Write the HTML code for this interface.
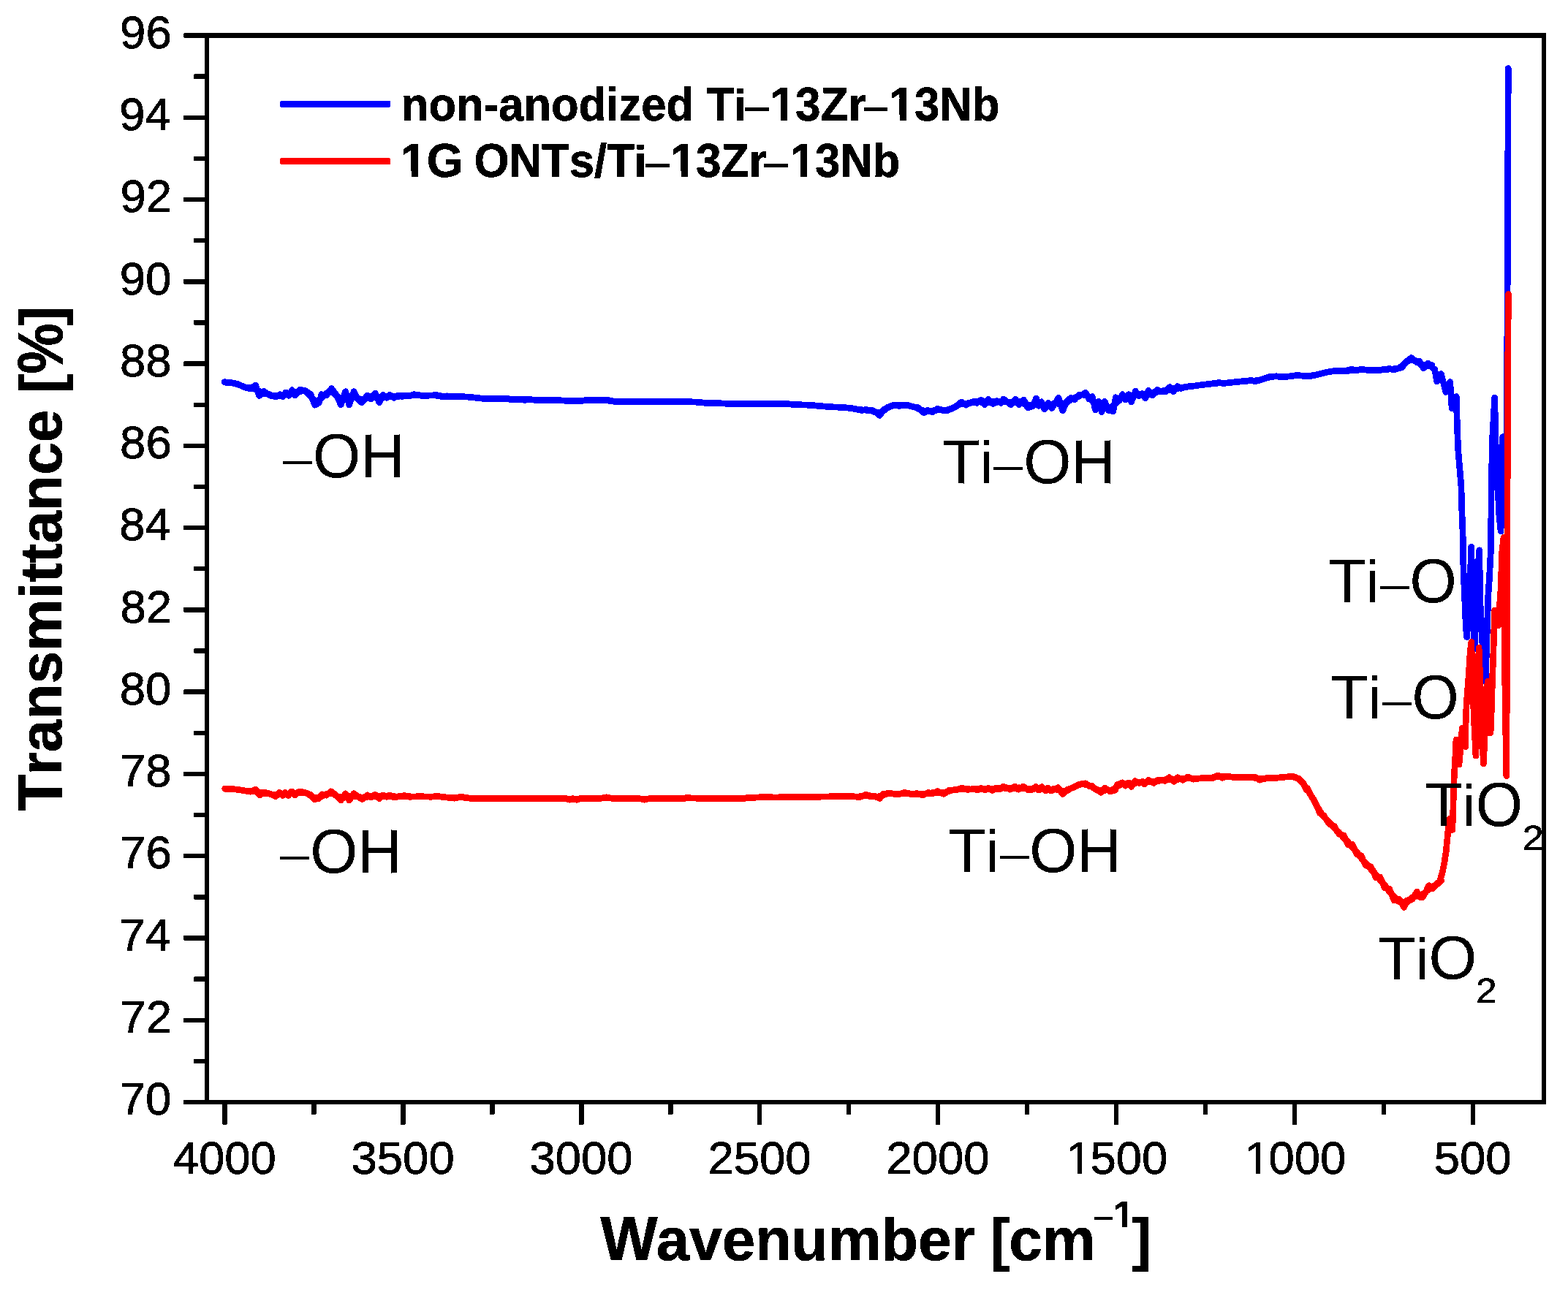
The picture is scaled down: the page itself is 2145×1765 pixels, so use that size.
<!DOCTYPE html>
<html lang="en"><head><meta charset="utf-8"><title>FTIR transmittance spectra</title>
<style>html,body{margin:0;padding:0;background:#fff}body{width:2145px;height:1765px;overflow:hidden}svg{display:block}text{font-family:'Liberation Sans', Arial, Helvetica, sans-serif;fill:#000;stroke:#000;stroke-linejoin:round;font-kerning:none;white-space:pre}.b{font-weight:700}</style>
</head><body>
<svg width="2145" height="1765" viewBox="0 0 2145 1765">
<rect x="0" y="0" width="2145" height="1765" fill="#fff"/>
<g id="curves" shape-rendering="crispEdges">
<polyline points="307.1,523.1 309.1,523.2 311.1,523.3 313.1,523.4 315.1,523.7 317.1,524.0 319.1,524.3 321.1,524.7 323.1,525.3 325.1,525.9 327.1,526.6 329.1,527.4 331.1,528.1 333.1,528.9 335.1,529.7 337.1,530.2 339.1,530.5 341.1,530.4 343.1,530.2 345.1,530.5 347.1,531.4 349.1,532.7 351.1,533.6 353.1,534.4 355.1,535.3 357.1,536.5 359.1,537.7 361.1,538.3 363.1,538.4 365.1,538.6 367.1,539.2 369.1,540.0 371.1,540.9 373.1,541.4 375.1,541.6 377.1,541.5 379.1,541.6 381.1,541.5 383.1,541.1 385.1,540.4 387.1,540.0 389.1,540.0 391.1,539.6 393.1,538.8 395.1,538.1 397.1,538.2 399.1,538.4 401.1,538.1 403.1,537.2 405.1,536.5 407.1,536.3 409.1,536.1 411.1,535.5 413.1,534.9 415.1,534.9 417.1,535.3 419.1,536.3 421.1,538.0 423.1,540.2 425.1,542.8 427.1,545.2 429.1,547.2 431.1,548.4 433.1,548.7 435.1,548.2 437.1,547.1 439.1,545.4 441.1,543.6 443.1,541.5 445.1,539.4 447.1,537.7 449.1,537.0 451.1,536.6 453.1,536.5 455.1,536.8 457.1,538.1 459.1,540.4 461.1,542.7 463.1,544.2 465.1,544.7 467.1,544.7 469.1,545.4 471.1,546.3 473.1,546.1 475.1,544.9 477.1,543.5 479.1,543.1 481.1,543.8 483.1,544.3 485.1,544.0 487.1,543.8 489.1,544.3 491.1,545.3 493.1,546.3 495.1,546.6 497.1,546.3 499.1,545.9 501.1,545.4 503.1,544.4 505.1,543.3 507.1,542.4 509.1,542.3 511.1,543.1 513.1,544.0 515.1,544.1 517.1,543.7 519.1,543.7 521.1,544.3 523.1,544.6 525.1,544.1 527.1,542.9 529.1,542.2 531.1,542.3 533.1,542.7 535.1,542.7 537.1,542.4 539.1,542.2 541.1,542.3 543.1,542.5 545.1,542.4 547.1,542.1 549.1,541.8 551.1,541.7 553.1,541.8 555.1,541.7 557.1,541.5 559.1,541.2 561.1,541.0 563.1,540.8 565.1,540.7 567.1,540.6 569.1,540.5 571.1,540.6 573.1,540.7 575.1,540.9 577.1,541.1 579.1,541.2 581.1,541.3 583.1,541.3 585.1,541.2 587.1,541.1 589.1,541.0 591.1,541.0 593.1,541.0 595.1,541.0 597.1,541.2 599.1,541.4 601.1,541.6 603.1,541.8 605.1,541.9 607.1,542.1 609.1,542.2 611.1,542.2 613.1,542.2 615.1,542.3 617.1,542.4 619.1,542.5 621.1,542.6 623.1,542.7 625.1,542.7 627.1,542.7 629.1,542.7 631.1,542.7 633.1,542.8 635.1,542.8 637.1,542.9 639.1,543.1 641.1,543.2 643.1,543.4 645.1,543.6 647.1,543.8 649.1,544.0 651.1,544.2 653.1,544.4 655.1,544.7 657.1,544.9 659.1,545.1 661.1,545.3 663.1,545.4 665.1,545.5 667.1,545.6 669.1,545.7 671.1,545.7 673.1,545.7 675.1,545.7 677.1,545.7 679.1,545.7 681.1,545.7 683.1,545.7 685.1,545.6 687.1,545.6 689.1,545.6 691.1,545.7 693.1,545.8 695.1,545.9 697.1,546.0 699.1,546.2 701.1,546.3 703.1,546.5 705.1,546.5 707.1,546.6 709.1,546.6 711.1,546.7 713.1,546.8 715.1,546.8 717.1,546.8 719.1,546.8 721.1,546.9 723.1,546.9 725.1,546.9 727.1,546.9 729.1,547.0 731.1,547.1 733.1,547.2 735.1,547.3 737.1,547.4 739.1,547.4 741.1,547.4 743.1,547.4 745.1,547.4 747.1,547.4 749.1,547.4 751.1,547.4 753.1,547.4 755.1,547.4 757.1,547.4 759.1,547.5 761.1,547.5 763.1,547.6 765.1,547.7 767.1,547.8 769.1,547.9 771.1,548.0 773.1,548.2 775.1,548.3 777.1,548.3 779.1,548.4 781.1,548.4 783.1,548.4 785.1,548.4 787.1,548.4 789.1,548.4 791.1,548.3 793.1,548.3 795.1,548.2 797.1,548.0 799.1,547.9 801.1,547.7 803.1,547.6 805.1,547.5 807.1,547.4 809.1,547.3 811.1,547.3 813.1,547.3 815.1,547.4 817.1,547.4 819.1,547.4 821.1,547.4 823.1,547.4 825.1,547.5 827.1,547.6 829.1,547.7 831.1,547.9 833.1,548.2 835.1,548.4 837.1,548.7 839.1,548.9 841.1,549.1 843.1,549.3 845.1,549.4 847.1,549.5 849.1,549.5 851.1,549.6 853.1,549.6 855.1,549.6 857.1,549.6 859.1,549.6 861.1,549.6 863.1,549.6 865.1,549.6 867.1,549.5 869.1,549.5 871.1,549.5 873.1,549.5 875.1,549.5 877.1,549.5 879.1,549.5 881.1,549.4 883.1,549.4 885.1,549.4 887.1,549.4 889.1,549.4 891.1,549.4 893.1,549.4 895.1,549.4 897.1,549.4 899.1,549.4 901.1,549.4 903.1,549.4 905.1,549.4 907.1,549.4 909.1,549.4 911.1,549.3 913.1,549.3 915.1,549.3 917.1,549.3 919.1,549.2 921.1,549.2 923.1,549.2 925.1,549.2 927.1,549.2 929.1,549.3 931.1,549.3 933.1,549.4 935.1,549.4 937.1,549.5 939.1,549.6 941.1,549.7 943.1,549.7 945.1,549.8 947.1,549.9 949.1,550.0 951.1,550.0 953.1,550.2 955.1,550.3 957.1,550.5 959.1,550.7 961.1,550.9 963.1,551.1 965.1,551.2 967.1,551.4 969.1,551.5 971.1,551.6 973.1,551.7 975.1,551.7 977.1,551.7 979.1,551.8 981.1,551.8 983.1,551.8 985.1,551.9 987.1,551.9 989.1,552.0 991.1,552.1 993.1,552.2 995.1,552.3 997.1,552.3 999.1,552.4 1001.1,552.4 1003.1,552.4 1005.1,552.4 1007.1,552.4 1009.1,552.4 1011.1,552.3 1013.1,552.3 1015.1,552.3 1017.1,552.3 1019.1,552.3 1021.1,552.4 1023.1,552.4 1025.1,552.5 1027.1,552.6 1029.1,552.6 1031.1,552.7 1033.1,552.7 1035.1,552.7 1037.1,552.8 1039.1,552.7 1041.1,552.7 1043.1,552.7 1045.1,552.7 1047.1,552.7 1049.1,552.7 1051.1,552.7 1053.1,552.7 1055.1,552.6 1057.1,552.6 1059.1,552.6 1061.1,552.6 1063.1,552.6 1065.1,552.6 1067.1,552.6 1069.1,552.6 1071.1,552.6 1073.1,552.6 1075.1,552.7 1077.1,552.8 1079.1,552.9 1081.1,553.0 1083.1,553.2 1085.1,553.3 1087.1,553.4 1089.1,553.6 1091.1,553.7 1093.1,553.8 1095.1,553.8 1097.1,553.9 1099.1,554.0 1101.1,554.0 1103.1,554.1 1105.1,554.2 1107.1,554.3 1109.1,554.4 1111.1,554.6 1113.1,554.7 1115.1,554.9 1117.1,555.1 1119.1,555.3 1121.1,555.4 1123.1,555.6 1125.1,555.8 1127.1,555.9 1129.1,556.1 1131.1,556.3 1133.1,556.4 1135.1,556.6 1137.1,556.7 1139.1,556.8 1141.1,556.9 1143.1,557.0 1145.1,557.1 1147.1,557.2 1149.1,557.3 1151.1,557.4 1153.1,557.5 1155.1,557.7 1157.1,557.9 1159.1,558.0 1161.1,558.2 1163.1,558.5 1165.1,558.8 1167.1,559.1 1169.1,559.4 1171.1,559.8 1173.1,560.2 1175.1,560.5 1177.1,560.6 1179.1,560.8 1181.1,560.9 1183.1,561.1 1185.1,561.2 1187.1,561.2 1189.1,561.4 1191.1,561.8 1193.1,562.4 1195.1,563.2 1197.1,564.0 1199.1,564.5 1201.1,564.6 1203.1,564.4 1205.1,563.9 1207.1,563.0 1209.1,561.8 1211.1,560.3 1213.1,558.7 1215.1,557.4 1217.1,556.5 1219.1,555.8 1221.1,555.3 1223.1,555.0 1225.1,554.9 1227.1,554.8 1229.1,554.7 1231.1,554.7 1233.1,554.7 1235.1,554.7 1237.1,554.6 1239.1,554.7 1241.1,554.9 1243.1,555.1 1245.1,555.5 1247.1,555.9 1249.1,556.4 1251.1,557.0 1253.1,557.7 1255.1,558.7 1257.1,559.7 1259.1,560.6 1261.1,561.3 1263.1,561.9 1265.1,562.4 1267.1,562.8 1269.1,563.0 1271.1,562.9 1273.1,562.4 1275.1,562.0 1277.1,561.8 1279.1,561.5 1281.1,561.3 1283.1,561.0 1285.1,560.7 1287.1,560.7 1289.1,560.9 1291.1,561.0 1293.1,561.0 1295.1,560.9 1297.1,560.5 1299.1,559.9 1301.1,559.2 1303.1,558.4 1305.1,557.3 1307.1,556.1 1309.1,554.9 1311.1,553.9 1313.1,553.3 1315.1,552.9 1317.1,552.5 1319.1,552.2 1321.1,551.9 1323.1,551.9 1325.1,551.7 1327.1,551.4 1329.1,551.1 1331.1,550.7 1333.1,550.2 1335.1,549.8 1337.1,549.6 1339.1,549.8 1341.1,550.2 1343.1,550.2 1345.1,549.6 1347.1,549.3 1349.1,549.5 1351.1,550.0 1353.1,550.2 1355.1,549.8 1357.1,549.5 1359.1,549.6 1361.1,550.1 1363.1,550.4 1365.1,550.0 1367.1,549.3 1369.1,549.0 1371.1,549.0 1373.1,549.3 1375.1,549.6 1377.1,549.8 1379.1,550.0 1381.1,550.1 1383.1,550.0 1385.1,550.2 1387.1,550.5 1389.1,550.5 1391.1,550.1 1393.1,549.7 1395.1,549.7 1397.1,550.5 1399.1,551.7 1401.1,552.5 1403.1,552.9 1405.1,553.6 1407.1,554.3 1409.1,554.6 1411.1,553.9 1413.1,553.4 1415.1,553.0 1417.1,552.2 1419.1,551.7 1421.1,551.8 1423.1,552.7 1425.1,553.7 1427.1,554.3 1429.1,554.3 1431.1,554.8 1433.1,555.7 1435.1,555.7 1437.1,554.7 1439.1,553.5 1441.1,552.4 1443.1,551.9 1445.1,551.9 1447.1,552.2 1449.1,552.4 1451.1,552.4 1453.1,552.2 1455.1,552.3 1457.1,552.3 1459.1,551.3 1461.1,549.6 1463.1,547.9 1465.1,546.6 1467.1,545.6 1469.1,544.6 1471.1,543.8 1473.1,543.1 1475.1,542.4 1477.1,541.4 1479.1,540.3 1481.1,540.0 1483.1,540.4 1485.1,541.0 1487.1,541.4 1489.1,542.5 1491.1,544.9 1493.1,547.6 1495.1,549.3 1497.1,550.4 1499.1,552.2 1501.1,554.6 1503.1,556.0 1505.1,555.8 1507.1,555.2 1509.1,555.8 1511.1,557.2 1513.1,558.1 1515.1,558.2 1517.1,558.1 1519.1,557.5 1521.1,556.5 1523.1,555.2 1525.1,553.3 1527.1,550.9 1529.1,548.0 1531.1,545.5 1533.1,544.7 1535.1,544.6 1537.1,543.9 1539.1,543.4 1541.1,543.8 1543.1,544.3 1545.1,544.0 1547.1,542.8 1549.1,541.8 1551.1,541.5 1553.1,541.4 1555.1,540.4 1557.1,539.4 1559.1,539.5 1561.1,540.3 1563.1,540.5 1565.1,539.9 1567.1,539.4 1569.1,539.3 1571.1,539.4 1573.1,538.9 1575.1,537.8 1577.1,536.9 1579.1,536.7 1581.1,536.7 1583.1,536.3 1585.1,535.7 1587.1,535.2 1589.1,535.0 1591.1,534.8 1593.1,534.3 1595.1,533.8 1597.1,533.6 1599.1,533.5 1601.1,533.1 1603.1,532.4 1605.1,531.8 1607.1,531.6 1609.1,531.8 1611.1,531.5 1613.1,530.9 1615.1,530.3 1617.1,529.9 1619.1,529.9 1621.1,529.7 1623.1,529.4 1625.1,529.1 1627.1,528.8 1629.1,528.5 1631.1,528.3 1633.1,528.1 1635.1,527.9 1637.1,527.6 1639.1,527.3 1641.1,527.0 1643.1,526.7 1645.1,526.5 1647.1,526.2 1649.1,526.0 1651.1,525.8 1653.1,525.5 1655.1,525.3 1657.1,525.1 1659.1,524.8 1661.1,524.5 1663.1,524.3 1665.1,524.2 1667.1,524.1 1669.1,524.1 1671.1,524.0 1673.1,524.0 1675.1,524.0 1677.1,524.0 1679.1,523.9 1681.1,523.7 1683.1,523.4 1685.1,523.2 1687.1,523.0 1689.1,522.7 1691.1,522.5 1693.1,522.4 1695.1,522.2 1697.1,522.0 1699.1,521.8 1701.1,521.7 1703.1,521.5 1705.1,521.3 1707.1,521.1 1709.1,521.1 1711.1,521.1 1713.1,521.1 1715.1,521.0 1717.1,520.9 1719.1,520.7 1721.1,520.5 1723.1,520.1 1725.1,519.5 1727.1,518.9 1729.1,518.2 1731.1,517.5 1733.1,516.9 1735.1,516.4 1737.1,515.9 1739.1,515.5 1741.1,515.3 1743.1,515.1 1745.1,515.1 1747.1,515.1 1749.1,515.2 1751.1,515.3 1753.1,515.4 1755.1,515.4 1757.1,515.4 1759.1,515.3 1761.1,515.2 1763.1,515.0 1765.1,514.7 1767.1,514.4 1769.1,514.2 1771.1,514.0 1773.1,513.9 1775.1,513.9 1777.1,513.9 1779.1,514.0 1781.1,514.1 1783.1,514.2 1785.1,514.3 1787.1,514.3 1789.1,514.3 1791.1,514.2 1793.1,514.0 1795.1,513.7 1797.1,513.4 1799.1,513.1 1801.1,512.7 1803.1,512.2 1805.1,511.7 1807.1,511.2 1809.1,510.7 1811.1,510.2 1813.1,509.8 1815.1,509.3 1817.1,509.0 1819.1,508.6 1821.1,508.3 1823.1,508.0 1825.1,507.7 1827.1,507.5 1829.1,507.4 1831.1,507.2 1833.1,507.2 1835.1,507.2 1837.1,507.2 1839.1,507.2 1841.1,507.0 1843.1,506.8 1845.1,506.7 1847.1,506.6 1849.1,506.5 1851.1,506.4 1853.1,506.1 1855.1,506.0 1857.1,506.0 1859.1,506.0 1861.1,506.0 1863.1,505.9 1865.1,505.9 1867.1,505.9 1869.1,506.1 1871.1,506.2 1873.1,506.4 1875.1,506.4 1877.1,506.5 1879.1,506.5 1881.1,506.4 1883.1,506.4 1885.1,506.3 1887.1,506.2 1889.1,506.0 1891.1,505.8 1893.1,505.6 1895.1,505.4 1897.1,505.2 1899.1,505.2 1901.1,505.1 1903.1,505.1 1905.1,505.0 1907.1,504.8 1909.1,504.7 1911.1,504.4 1913.1,503.7 1915.1,502.6 1917.1,501.3 1919.1,499.8 1921.1,498.2 1923.1,496.4 1925.1,494.7 1927.1,493.4 1929.1,492.7 1931.1,492.6 1933.1,492.7 1935.1,492.9 1937.1,493.7 1939.1,495.2 1941.1,496.8 1943.1,498.0 1945.1,498.6 1947.1,498.9 1949.1,499.5 1951.1,500.2 1953.1,500.6 1955.1,500.2 1957.1,499.8 1959.1,499.7" fill="none" stroke="#0000ff" stroke-width="8.70" stroke-linejoin="round" stroke-linecap="round"/>
<polyline points="307.1,522.7 317.0,523.8 325.5,525.5 334.1,529.8 342.6,531.9 349.7,527.2 354.7,541.4 361.1,535.5 369.6,541.1 377.4,542.8 383.1,539.7 386.7,542.6 390.9,536.9 395.2,541.4 399.5,533.7 403.7,541.1 410.1,533.3 418.0,534.7 425.1,539.7 430.8,554.2 436.4,551.1 440.0,539.7 446.4,540.9 453.5,531.5 460.6,541.1 466.3,553.6 472.7,535.7 477.7,553.9 484.1,535.7 489.1,545.4 494.7,550.8 502.6,541.1 507.5,545.7 513.2,538.0 518.9,550.8 523.9,540.4 528.9,544.3 533.1,540.4 538.8,544.3 544.5,541.1 550.2,542.6 554.5,541.1 560.1,541.8 566.5,539.7 577.2,541.4 590.0,541.1 596.4,540.4 604.2,542.6 611.3,541.8 621.3,542.8 632.7,542.6 646.9,543.7 663.9,545.7 689.5,545.7 693.8,545.1 698.1,546.5 712.3,546.5 718.7,547.5 722.2,546.3 732.2,547.4 760.6,547.4 779.1,548.5 797.6,548.2 803.3,547.3 831.7,547.5 837.4,549.1 850.2,549.7 890.0,549.4 911.3,549.4 925.5,549.1 956.8,550.2 965.4,551.5 989.5,551.9 998.1,552.5 1018.0,552.2 1032.2,552.8 1074.8,552.5 1089.1,553.6 1107.5,554.2 1123.2,555.6 1137.4,556.8 1155.9,557.6 1167.3,558.9 1178.6,561.5 1185.0,560.3 1190.0,562.2 1192.8,561.3 1197.1,563.2 1203.5,568.4 1208.5,561.0 1214.2,557.5 1222.7,553.9 1229.8,555.4 1239.8,553.9 1249.7,556.8 1255.4,557.5 1263.9,564.7 1268.9,561.3 1275.3,563.9 1282.4,559.3 1289.5,561.3 1295.2,561.8 1302.3,558.9 1309.4,555.4 1315.1,550.0 1321.5,554.2 1326.5,551.1 1332.2,549.4 1336.4,551.4 1342.1,547.1 1347.1,553.6 1352.1,546.3 1358.5,552.5 1363.5,548.5 1369.1,551.4 1372.7,546.1 1377.7,549.7 1382.7,553.6 1389.1,546.1 1394.0,553.6 1400.4,547.1 1406.1,557.9 1413.2,555.4 1417.5,545.1 1421.0,555.4 1424.6,549.7 1428.9,559.9 1433.8,551.4 1438.8,558.5 1443.8,551.1 1448.1,544.3 1453.7,561.8 1458.7,549.7 1465.1,544.3 1470.1,546.8 1475.8,540.4 1481.5,539.7 1485.0,537.2 1490.0,546.1 1494.3,542.6 1498.5,560.8 1502.8,549.4 1507.1,563.6 1511.3,549.4 1516.3,561.3 1522.7,562.7 1526.3,543.7 1531.2,548.2 1535.5,539.7 1539.8,547.1 1544.0,539.7 1547.6,550.0 1553.3,535.2 1558.2,541.4 1562.5,538.6 1566.8,544.8 1571.0,534.3 1576.7,540.9 1583.1,533.5 1588.1,535.7 1595.2,535.5 1600.2,529.5 1605.2,535.7 1610.9,528.6 1615.8,531.5 1622.2,529.1 1632.2,528.3 1646.4,526.2 1660.6,524.8 1667.7,523.4 1673.4,524.6 1689.1,522.7 1703.3,521.5 1711.8,520.5 1717.5,521.8 1728.9,518.4 1737.4,515.3 1745.9,514.8 1757.3,515.8 1774.4,513.4 1785.7,514.7 1790.0,514.1 1794.3,514.3 1804.2,511.9 1815.6,509.1 1827.0,507.3 1838.3,506.9 1844.0,507.9 1848.3,505.2 1855.4,506.9 1862.5,505.2 1872.5,506.6 1889.5,506.2 1900.9,504.5 1906.6,505.8 1918.0,502.7 1922.9,495.5 1930.8,489.6 1937.9,495.5 1942.1,494.5 1947.1,503.8 1953.5,497.3 1959.2,502.7 1962.7,505.5 1965.6,522.0 1971.3,511.5 1978.0,536.5 1983.7,522.5 1986.1,559.0 1992.2,542.5 1993.2,576.0 1994.6,614.0 1997.0,642.6 1998.9,665.0 1999.9,700.0 2001.1,730.0 2002.0,780.0 2003.3,810.0 2004.4,835.0 2005.4,860.0 2006.7,871.7 2009.3,830.0 2011.3,790.0 2012.6,748.4 2014.3,800.0 2017.3,888.0 2020.6,800.0 2023.6,752.8 2024.6,800.0 2025.4,840.0 2028.5,890.0 2032.2,933.0 2033.6,885.0 2035.1,838.0 2035.8,815.0 2037.4,792.0 2039.2,757.0 2040.0,700.0 2040.2,665.0 2041.6,600.0 2044.7,544.0 2045.3,570.0 2046.0,605.0 2049.5,675.0 2050.4,700.0 2053.1,727.0 2054.3,660.0 2055.6,598.0 2061.3,595.0 2062.3,360.0 2063.3,93.5" fill="none" stroke="#0000ff" stroke-width="8.70" stroke-linejoin="round" stroke-linecap="round"/>
<polyline points="307.8,1079.2 309.8,1079.3 311.8,1079.3 313.8,1079.4 315.8,1079.5 317.8,1079.6 319.8,1079.8 321.8,1080.0 323.8,1080.3 325.8,1080.5 327.8,1080.8 329.8,1081.1 331.8,1081.4 333.8,1081.8 335.8,1082.1 337.8,1082.3 339.8,1082.3 341.8,1082.2 343.8,1082.0 345.8,1082.2 347.8,1082.7 349.8,1083.2 351.8,1083.6 353.8,1083.9 355.8,1084.4 357.8,1084.9 359.8,1085.3 361.8,1085.5 363.8,1085.3 365.8,1085.5 367.8,1085.9 369.8,1086.6 371.8,1087.1 373.8,1087.3 375.8,1087.2 377.8,1087.2 379.8,1087.3 381.8,1087.2 383.8,1086.6 385.8,1086.3 387.8,1086.4 389.8,1086.5 391.8,1086.3 393.8,1085.9 395.8,1085.7 397.8,1085.9 399.8,1086.0 401.8,1085.5 403.8,1084.9 405.8,1084.8 407.8,1084.8 409.8,1084.7 411.8,1084.3 413.8,1084.2 415.8,1084.4 417.8,1085.0 419.8,1085.7 421.8,1086.7 423.8,1087.9 425.8,1089.1 427.8,1090.1 429.8,1091.0 431.8,1091.4 433.8,1091.3 435.8,1090.9 437.8,1090.3 439.8,1089.6 441.8,1088.7 443.8,1087.7 445.8,1086.7 447.8,1086.0 449.8,1085.8 451.8,1085.8 453.8,1085.8 455.8,1086.3 457.8,1087.2 459.8,1088.5 461.8,1089.7 463.8,1090.3 465.8,1090.4 467.8,1090.5 469.8,1090.9 471.8,1091.2 473.8,1090.8 475.8,1090.1 477.8,1089.5 479.8,1089.5 481.8,1089.8 483.8,1089.8 485.8,1089.4 487.8,1089.5 489.8,1089.9 491.8,1090.5 493.8,1090.9 495.8,1090.9 497.8,1090.8 499.8,1090.7 501.8,1090.5 503.8,1089.9 505.8,1089.4 507.8,1089.1 509.8,1089.2 511.8,1089.7 513.8,1090.0 515.8,1089.8 517.8,1089.6 519.8,1089.7 521.8,1090.0 523.8,1090.0 525.8,1089.7 527.8,1089.2 529.8,1089.1 531.8,1089.4 533.8,1089.6 535.8,1089.7 537.8,1089.7 539.8,1089.8 541.8,1090.0 543.8,1090.0 545.8,1089.8 547.8,1089.5 549.8,1089.3 551.8,1089.3 553.8,1089.3 555.8,1089.5 557.8,1089.6 559.8,1089.7 561.8,1089.9 563.8,1090.0 565.8,1090.0 567.8,1090.0 569.8,1089.9 571.8,1089.8 573.8,1089.8 575.8,1089.8 577.8,1089.8 579.8,1089.9 581.8,1090.0 583.8,1090.0 585.8,1090.1 587.8,1090.1 589.8,1090.0 591.8,1089.9 593.8,1089.9 595.8,1089.8 597.8,1089.8 599.8,1089.9 601.8,1090.0 603.8,1090.2 605.8,1090.4 607.8,1090.6 609.8,1090.9 611.8,1091.1 613.8,1091.3 615.8,1091.5 617.8,1091.6 619.8,1091.6 621.8,1091.5 623.8,1091.4 625.8,1091.2 627.8,1091.1 629.8,1091.0 631.8,1091.0 633.8,1091.1 635.8,1091.3 637.8,1091.5 639.8,1091.8 641.8,1092.0 643.8,1092.2 645.8,1092.3 647.8,1092.4 649.8,1092.4 651.8,1092.4 653.8,1092.4 655.8,1092.4 657.8,1092.4 659.8,1092.4 661.8,1092.4 663.8,1092.4 665.8,1092.4 667.8,1092.4 669.8,1092.4 671.8,1092.4 673.8,1092.4 675.8,1092.4 677.8,1092.4 679.8,1092.4 681.8,1092.3 683.8,1092.3 685.8,1092.3 687.8,1092.3 689.8,1092.3 691.8,1092.3 693.8,1092.3 695.8,1092.3 697.8,1092.3 699.8,1092.3 701.8,1092.3 703.8,1092.3 705.8,1092.3 707.8,1092.3 709.8,1092.3 711.8,1092.2 713.8,1092.2 715.8,1092.2 717.8,1092.2 719.8,1092.2 721.8,1092.2 723.8,1092.2 725.8,1092.2 727.8,1092.2 729.8,1092.2 731.8,1092.2 733.8,1092.2 735.8,1092.2 737.8,1092.3 739.8,1092.3 741.8,1092.3 743.8,1092.3 745.8,1092.4 747.8,1092.4 749.8,1092.4 751.8,1092.4 753.8,1092.5 755.8,1092.5 757.8,1092.5 759.8,1092.5 761.8,1092.6 763.8,1092.6 765.8,1092.6 767.8,1092.7 769.8,1092.7 771.8,1092.9 773.8,1093.1 775.8,1093.1 777.8,1093.1 779.8,1093.2 781.8,1093.3 783.8,1093.5 785.8,1093.4 787.8,1093.2 789.8,1093.0 791.8,1093.0 793.8,1092.8 795.8,1092.7 797.8,1092.4 799.8,1092.3 801.8,1092.2 803.8,1092.3 805.8,1092.3 807.8,1092.3 809.8,1092.4 811.8,1092.5 813.8,1092.5 815.8,1092.5 817.8,1092.5 819.8,1092.3 821.8,1092.1 823.8,1091.9 825.8,1091.7 827.8,1091.6 829.8,1091.6 831.8,1091.6 833.8,1091.8 835.8,1092.0 837.8,1092.2 839.8,1092.4 841.8,1092.6 843.8,1092.7 845.8,1092.7 847.8,1092.7 849.8,1092.7 851.8,1092.6 853.8,1092.6 855.8,1092.6 857.8,1092.6 859.8,1092.6 861.8,1092.6 863.8,1092.5 865.8,1092.5 867.8,1092.5 869.8,1092.6 871.8,1092.7 873.8,1092.9 875.8,1093.1 877.8,1093.2 879.8,1093.3 881.8,1093.3 883.8,1093.2 885.8,1093.1 887.8,1092.9 889.8,1092.7 891.8,1092.5 893.8,1092.3 895.8,1092.3 897.8,1092.2 899.8,1092.3 901.8,1092.3 903.8,1092.3 905.8,1092.3 907.8,1092.3 909.8,1092.4 911.8,1092.4 913.8,1092.4 915.8,1092.4 917.8,1092.4 919.8,1092.5 921.8,1092.5 923.8,1092.6 925.8,1092.7 927.8,1092.7 929.8,1092.7 931.8,1092.5 933.8,1092.4 935.8,1092.3 937.8,1092.2 939.8,1092.0 941.8,1091.9 943.8,1091.9 945.8,1091.9 947.8,1092.0 949.8,1092.0 951.8,1092.1 953.8,1092.2 955.8,1092.3 957.8,1092.3 959.8,1092.4 961.8,1092.5 963.8,1092.5 965.8,1092.6 967.8,1092.6 969.8,1092.7 971.8,1092.7 973.8,1092.7 975.8,1092.6 977.8,1092.6 979.8,1092.6 981.8,1092.5 983.8,1092.5 985.8,1092.5 987.8,1092.4 989.8,1092.4 991.8,1092.4 993.8,1092.3 995.8,1092.3 997.8,1092.3 999.8,1092.3 1001.8,1092.3 1003.8,1092.3 1005.8,1092.3 1007.8,1092.4 1009.8,1092.4 1011.8,1092.5 1013.8,1092.5 1015.8,1092.3 1017.8,1092.2 1019.8,1092.0 1021.8,1091.8 1023.8,1091.6 1025.8,1091.4 1027.8,1091.3 1029.8,1091.2 1031.8,1091.1 1033.8,1091.1 1035.8,1091.0 1037.8,1090.9 1039.8,1090.8 1041.8,1090.7 1043.8,1090.6 1045.8,1090.6 1047.8,1090.6 1049.8,1090.6 1051.8,1090.7 1053.8,1090.8 1055.8,1090.8 1057.8,1090.9 1059.8,1090.9 1061.8,1090.9 1063.8,1090.9 1065.8,1090.8 1067.8,1090.8 1069.8,1090.8 1071.8,1090.7 1073.8,1090.7 1075.8,1090.7 1077.8,1090.6 1079.8,1090.6 1081.8,1090.6 1083.8,1090.6 1085.8,1090.6 1087.8,1090.5 1089.8,1090.5 1091.8,1090.5 1093.8,1090.5 1095.8,1090.4 1097.8,1090.4 1099.8,1090.4 1101.8,1090.4 1103.8,1090.4 1105.8,1090.3 1107.8,1090.3 1109.8,1090.3 1111.8,1090.3 1113.8,1090.2 1115.8,1090.2 1117.8,1090.2 1119.8,1090.2 1121.8,1090.2 1123.8,1090.1 1125.8,1090.1 1127.8,1090.1 1129.8,1090.0 1131.8,1090.0 1133.8,1089.9 1135.8,1089.8 1137.8,1089.7 1139.8,1089.6 1141.8,1089.5 1143.8,1089.4 1145.8,1089.3 1147.8,1089.3 1149.8,1089.3 1151.8,1089.3 1153.8,1089.4 1155.8,1089.4 1157.8,1089.4 1159.8,1089.5 1161.8,1089.5 1163.8,1089.6 1165.8,1089.7 1167.8,1089.9 1169.8,1090.1 1171.8,1090.1 1173.8,1090.0 1175.8,1089.8 1177.8,1089.5 1179.8,1089.2 1181.8,1089.0 1183.8,1088.8 1185.8,1088.6 1187.8,1088.6 1189.8,1088.7 1191.8,1089.0 1193.8,1089.4 1195.8,1089.9 1197.8,1090.2 1199.8,1090.1 1201.8,1089.8 1203.8,1089.4 1205.8,1088.9 1207.8,1088.2 1209.8,1087.4 1211.8,1086.6 1213.8,1085.9 1215.8,1085.7 1217.8,1085.8 1219.8,1085.9 1221.8,1086.1 1223.8,1086.2 1225.8,1086.2 1227.8,1086.2 1229.8,1086.1 1231.8,1085.9 1233.8,1085.7 1235.8,1085.5 1237.8,1085.4 1239.8,1085.4 1241.8,1085.6 1243.8,1085.8 1245.8,1086.0 1247.8,1086.1 1249.8,1086.2 1251.8,1086.3 1253.8,1086.4 1255.8,1086.6 1257.8,1086.6 1259.8,1086.6 1261.8,1086.5 1263.8,1086.4 1265.8,1086.2 1267.8,1086.1 1269.8,1085.8 1271.8,1085.4 1273.8,1085.0 1275.8,1084.6 1277.8,1084.4 1279.8,1084.3 1281.8,1084.3 1283.8,1084.3 1285.8,1084.4 1287.8,1084.4 1289.8,1084.3 1291.8,1084.1 1293.8,1083.8 1295.8,1083.3 1297.8,1082.7 1299.8,1082.0 1301.8,1081.4 1303.8,1081.0 1305.8,1080.6 1307.8,1080.3 1309.8,1079.9 1311.8,1079.6 1313.8,1079.4 1315.8,1079.4 1317.8,1079.4 1319.8,1079.4 1321.8,1079.5 1323.8,1079.7 1325.8,1079.8 1327.8,1079.9 1329.8,1080.0 1331.8,1080.0 1333.8,1079.9 1335.8,1079.7 1337.8,1079.7 1339.8,1079.8 1341.8,1079.9 1343.8,1079.7 1345.8,1079.4 1347.8,1079.4 1349.8,1079.6 1351.8,1079.9 1353.8,1079.9 1355.8,1079.6 1357.8,1079.5 1359.8,1079.6 1361.8,1079.7 1363.8,1079.4 1365.8,1078.8 1367.8,1078.3 1369.8,1078.1 1371.8,1078.1 1373.8,1078.2 1375.8,1078.2 1377.8,1078.2 1379.8,1078.2 1381.8,1078.3 1383.8,1078.3 1385.8,1078.5 1387.8,1078.6 1389.8,1078.3 1391.8,1078.0 1393.8,1077.8 1395.8,1078.0 1397.8,1078.3 1399.8,1078.6 1401.8,1078.7 1403.8,1078.9 1405.8,1079.2 1407.8,1079.4 1409.8,1079.4 1411.8,1079.3 1413.8,1079.4 1415.8,1079.2 1417.8,1078.9 1419.8,1078.5 1421.8,1078.6 1423.8,1079.1 1425.8,1079.4 1427.8,1079.3 1429.8,1079.3 1431.8,1079.7 1433.8,1080.2 1435.8,1080.4 1437.8,1080.2 1439.8,1079.8 1441.8,1079.8 1443.8,1080.1 1445.8,1080.5 1447.8,1081.1 1449.8,1081.5 1451.8,1081.9 1453.8,1082.1 1455.8,1082.4 1457.8,1082.2 1459.8,1081.6 1461.8,1080.5 1463.8,1079.4 1465.8,1078.4 1467.8,1077.4 1469.8,1076.5 1471.8,1075.7 1473.8,1074.9 1475.8,1074.1 1477.8,1073.4 1479.8,1073.0 1481.8,1072.9 1483.8,1073.2 1485.8,1073.5 1487.8,1073.9 1489.8,1074.7 1491.8,1075.7 1493.8,1076.8 1495.8,1077.9 1497.8,1078.9 1499.8,1080.0 1501.8,1080.9 1503.8,1081.2 1505.8,1081.2 1507.8,1081.3 1509.8,1081.3 1511.8,1081.3 1513.8,1081.1 1515.8,1081.0 1517.8,1081.1 1519.8,1081.1 1521.8,1080.5 1523.8,1079.4 1525.8,1078.1 1527.8,1076.6 1529.8,1075.2 1531.8,1074.1 1533.8,1073.3 1535.8,1072.7 1537.8,1072.5 1539.8,1072.7 1541.8,1073.2 1543.8,1073.3 1545.8,1072.9 1547.8,1072.3 1549.8,1071.9 1551.8,1071.8 1553.8,1071.5 1555.8,1070.7 1557.8,1070.4 1559.8,1070.6 1561.8,1070.7 1563.8,1070.4 1565.8,1070.1 1567.8,1069.8 1569.8,1069.9 1571.8,1070.0 1573.8,1069.6 1575.8,1069.3 1577.8,1069.1 1579.8,1069.1 1581.8,1068.9 1583.8,1068.7 1585.8,1068.3 1587.8,1068.0 1589.8,1067.6 1591.8,1067.2 1593.8,1066.8 1595.8,1066.6 1597.8,1066.6 1599.8,1066.7 1601.8,1066.5 1603.8,1066.1 1605.8,1066.0 1607.8,1066.1 1609.8,1066.3 1611.8,1066.3 1613.8,1065.9 1615.8,1065.5 1617.8,1065.2 1619.8,1065.1 1621.8,1065.1 1623.8,1065.0 1625.8,1064.9 1627.8,1064.8 1629.8,1064.9 1631.8,1065.0 1633.8,1065.3 1635.8,1065.4 1637.8,1065.4 1639.8,1065.2 1641.8,1065.0 1643.8,1064.8 1645.8,1064.7 1647.8,1064.6 1649.8,1064.6 1651.8,1064.6 1653.8,1064.6 1655.8,1064.4 1657.8,1064.0 1659.8,1063.5 1661.8,1063.2 1663.8,1063.0 1665.8,1062.9 1667.8,1062.7 1669.8,1062.7 1671.8,1062.6 1673.8,1062.7 1675.8,1062.9 1677.8,1062.9 1679.8,1062.8 1681.8,1062.8 1683.8,1062.9 1685.8,1063.1 1687.8,1063.3 1689.8,1063.4 1691.8,1063.5 1693.8,1063.6 1695.8,1063.5 1697.8,1063.5 1699.8,1063.5 1701.8,1063.4 1703.8,1063.4 1705.8,1063.4 1707.8,1063.5 1709.8,1063.5 1711.8,1063.6 1713.8,1063.9 1715.8,1064.3 1717.8,1064.8 1719.8,1065.1 1721.8,1065.4 1723.8,1065.6 1725.8,1065.7 1727.8,1065.7 1729.8,1065.5 1731.8,1065.2 1733.8,1064.9 1735.8,1064.7 1737.8,1064.6 1739.8,1064.5 1741.8,1064.4 1743.8,1064.3 1745.8,1064.2 1747.8,1064.1 1749.8,1063.9 1751.8,1063.7 1753.8,1063.5 1755.8,1063.4 1757.8,1063.2 1759.8,1063.0 1761.8,1062.9 1763.8,1062.8 1765.8,1062.9 1767.8,1063.0 1769.8,1063.3 1771.8,1063.8 1773.8,1064.6 1775.8,1065.7 1777.8,1067.3 1779.8,1069.4 1781.8,1071.4 1783.8,1073.8 1785.8,1076.5 1787.8,1079.4 1789.8,1082.5 1791.8,1085.8 1793.8,1088.9 1795.8,1092.2 1797.8,1096.2 1799.8,1100.0 1801.8,1103.5 1803.8,1106.7 1805.8,1109.9 1807.8,1113.0 1809.8,1115.8 1811.8,1118.4 1813.8,1120.6 1815.8,1122.7 1817.8,1124.7 1819.8,1126.8 1821.8,1129.0 1823.8,1131.1 1825.8,1133.3 1827.8,1135.2 1829.8,1137.0 1831.8,1138.9 1833.8,1141.2 1835.8,1143.6 1837.8,1145.9 1839.8,1148.0 1841.8,1149.8 1843.8,1151.7 1845.8,1154.1 1847.8,1156.6 1849.8,1159.1 1851.8,1161.2 1853.8,1163.2 1855.8,1165.3 1857.8,1168.0 1859.8,1170.8 1861.8,1173.6 1863.8,1175.9 1865.8,1178.0 1867.8,1180.1 1869.8,1182.4 1871.8,1184.9 1873.8,1187.3 1875.8,1189.7 1877.8,1191.8 1879.8,1193.9 1881.8,1196.0 1883.8,1198.5 1885.8,1201.2 1887.8,1203.9 1889.8,1206.2 1891.8,1208.2 1893.8,1210.3 1895.8,1213.0 1897.8,1216.0 1899.8,1219.0 1901.8,1221.6 1903.8,1223.7 1905.8,1225.8 1907.8,1227.8 1909.8,1229.9 1911.8,1231.9 1913.8,1233.6 1915.8,1234.4 1917.8,1234.6 1919.8,1234.7 1921.8,1234.8 1923.8,1234.6 1925.8,1233.8 1927.8,1232.2 1929.8,1230.0 1931.8,1228.1 1933.8,1227.1 1935.8,1226.5 1937.8,1226.0 1939.8,1225.6 1941.8,1225.0 1943.8,1224.4 1945.8,1223.7 1947.8,1222.4 1949.8,1220.7 1951.8,1219.0 1953.8,1217.4 1955.8,1215.7 1957.8,1214.2 1959.8,1212.9 1961.8,1212.1 1963.8,1210.9 1965.8,1208.6 1967.8,1207.5 1969.8,1206.3 1971.8,1205.0" fill="none" stroke="#ff0000" stroke-width="8.70" stroke-linejoin="round" stroke-linecap="round"/>
<polyline points="307.8,1079.0 322.7,1080.0 334.1,1081.8 342.6,1083.2 349.7,1080.1 355.4,1087.8 361.1,1083.9 369.6,1086.1 376.7,1089.6 382.4,1084.4 386.7,1088.5 390.2,1084.4 394.5,1088.5 398.8,1082.9 403.7,1087.8 409.4,1082.9 418.0,1084.6 425.1,1087.5 430.0,1093.5 436.4,1092.5 440.7,1086.8 446.4,1088.2 452.8,1082.9 459.2,1087.5 466.3,1094.9 472.7,1085.8 477.7,1094.9 484.1,1085.8 489.1,1089.6 495.5,1093.5 502.6,1087.9 507.5,1091.0 513.2,1087.2 518.9,1092.7 523.9,1087.9 528.9,1090.3 533.1,1087.9 538.8,1091.0 545.9,1089.6 553.7,1088.6 560.1,1090.3 574.4,1089.6 590.0,1090.3 597.1,1089.3 608.5,1090.8 621.3,1092.2 631.2,1090.0 636.9,1091.8 646.9,1092.5 732.2,1092.2 774.8,1092.7 779.1,1094.2 783.4,1092.5 789.1,1094.2 794.7,1092.2 803.3,1092.2 820.3,1092.7 829.6,1090.8 838.8,1092.7 874.4,1092.5 881.5,1094.2 890.0,1092.2 922.7,1092.5 932.7,1093.0 938.3,1091.6 961.1,1092.5 969.6,1092.7 1003.7,1092.2 1018.0,1092.7 1023.6,1091.0 1032.2,1091.3 1046.4,1090.3 1057.8,1091.0 1067.7,1090.8 1131.7,1090.0 1145.9,1089.2 1167.3,1089.6 1175.8,1090.9 1184.3,1087.2 1190.0,1089.6 1192.8,1088.9 1197.1,1089.3 1203.5,1092.5 1208.5,1086.1 1218.4,1085.4 1228.4,1087.1 1237.6,1084.4 1248.3,1087.1 1254.0,1085.4 1262.5,1088.1 1269.6,1084.4 1275.3,1086.1 1282.4,1082.5 1290.9,1086.4 1298.1,1081.5 1309.4,1080.4 1315.8,1078.2 1323.6,1080.4 1332.2,1079.4 1337.2,1080.9 1342.1,1078.2 1347.1,1080.9 1352.1,1078.2 1357.8,1081.4 1362.7,1078.2 1367.7,1080.0 1372.7,1076.1 1381.9,1080.2 1388.3,1076.1 1393.3,1080.2 1399.7,1076.1 1406.1,1080.7 1411.8,1080.4 1416.8,1076.5 1421.0,1081.1 1425.3,1076.5 1430.3,1082.1 1433.8,1078.0 1438.1,1082.1 1447.3,1077.5 1453.7,1086.4 1460.1,1080.4 1468.7,1077.5 1475.8,1073.3 1485.0,1071.8 1490.0,1075.7 1494.3,1075.4 1497.1,1079.0 1500.0,1080.4 1506.4,1084.2 1511.3,1078.2 1518.4,1082.8 1525.5,1081.1 1528.4,1073.7 1535.5,1070.9 1539.8,1075.0 1544.0,1070.9 1547.6,1076.4 1552.6,1068.7 1558.2,1071.4 1562.5,1069.4 1565.4,1072.8 1571.0,1067.3 1578.2,1071.4 1583.8,1067.3 1593.8,1068.3 1599.5,1063.7 1605.9,1069.3 1610.9,1063.7 1618.0,1067.2 1625.1,1063.0 1632.2,1066.2 1646.4,1064.3 1657.8,1065.0 1666.3,1060.9 1672.0,1064.3 1678.4,1061.9 1689.1,1063.7 1703.3,1063.3 1717.5,1063.7 1723.2,1067.2 1731.7,1064.7 1745.9,1064.3 1755.9,1063.3 1768.7,1062.3 1777.2,1065.5 1782.9,1071.1 1787.2,1081.1 1788.3,1078.3 1792.6,1086.9 1798.3,1096.1 1802.6,1105.4 1805.4,1112.5 1811.1,1116.0 1815.4,1123.1 1819.6,1128.1 1825.3,1130.2 1828.9,1137.3 1832.4,1141.6 1838.1,1143.0 1841.7,1150.9 1844.5,1155.8 1849.5,1155.1 1853.0,1162.2 1855.9,1168.6 1862.3,1170.8 1865.1,1177.9 1868.7,1184.3 1875.1,1185.7 1878.6,1192.1 1882.2,1200.6 1887.9,1199.9 1891.4,1207.7 1894.3,1214.8 1900.7,1216.3 1903.5,1223.4 1907.1,1231.9 1914.2,1230.5 1917.7,1236.2 1920.6,1241.4 1924.8,1231.9 1931.9,1230.5 1938.3,1220.2 1941.9,1227.2 1946.2,1227.6 1951.1,1219.1 1954.7,1211.7 1959.7,1215.8 1964.6,1210.6 1968.9,1207.7 1973.2,1193.5 1976.0,1179.3 1978.2,1165.1 1980.3,1143.7 1980.6,1140.0 1982.0,1128.0 1983.5,1120.0 1986.8,1135.5 1987.8,1110.0 1988.5,1080.0 1989.4,1060.0 1990.6,1040.0 1992.0,1012.0 1996.0,1046.0 2000.3,996.0 2004.9,1021.6 2005.2,985.0 2006.2,963.0 2009.1,925.0 2011.0,895.0 2012.7,878.5 2014.5,930.0 2016.2,980.0 2018.9,1034.0 2021.0,960.0 2023.1,886.0 2026.0,960.0 2029.3,1045.0 2032.0,990.0 2035.0,932.5 2037.0,970.0 2038.8,1003.0 2039.6,995.0 2040.5,963.0 2041.7,925.0 2042.8,896.0 2043.9,860.0 2044.7,835.0 2049.5,856.0 2053.5,800.0 2054.3,760.0 2056.9,735.5 2058.3,900.0 2060.7,1061.5 2061.6,900.0 2062.3,600.0 2063.0,454.0 2063.5,402.5" fill="none" stroke="#ff0000" stroke-width="8.70" stroke-linejoin="round" stroke-linecap="round"/>
</g>
<g id="legend-lines" shape-rendering="crispEdges">
<rect x="383.2" y="137.9" width="151.2" height="9.1" rx="2.6" fill="#0000ff"/>
<rect x="383.2" y="216.1" width="151.2" height="9.1" rx="2.6" fill="#ff0000"/>
</g>
<g id="axes" shape-rendering="crispEdges">
<rect x="280.00" y="45.00" width="1835.00" height="7.00" fill="#000"/>
<rect x="280.00" y="1505.00" width="1835.00" height="6.00" fill="#000"/>
<rect x="280.00" y="45.00" width="6.00" height="1466.00" fill="#000"/>
<rect x="2109.00" y="45.00" width="6.00" height="1466.00" fill="#000"/>
<rect x="251.00" y="1504.80" width="32.00" height="6.40" rx="1.2" fill="#000"/>
<rect x="265.00" y="1448.67" width="18.00" height="6.40" rx="1.2" fill="#000"/>
<rect x="251.00" y="1392.53" width="32.00" height="6.40" rx="1.2" fill="#000"/>
<rect x="265.00" y="1336.40" width="18.00" height="6.40" rx="1.2" fill="#000"/>
<rect x="251.00" y="1280.26" width="32.00" height="6.40" rx="1.2" fill="#000"/>
<rect x="265.00" y="1224.13" width="18.00" height="6.40" rx="1.2" fill="#000"/>
<rect x="251.00" y="1167.99" width="32.00" height="6.40" rx="1.2" fill="#000"/>
<rect x="265.00" y="1111.86" width="18.00" height="6.40" rx="1.2" fill="#000"/>
<rect x="251.00" y="1055.72" width="32.00" height="6.40" rx="1.2" fill="#000"/>
<rect x="265.00" y="999.59" width="18.00" height="6.40" rx="1.2" fill="#000"/>
<rect x="251.00" y="943.45" width="32.00" height="6.40" rx="1.2" fill="#000"/>
<rect x="265.00" y="887.32" width="18.00" height="6.40" rx="1.2" fill="#000"/>
<rect x="251.00" y="831.18" width="32.00" height="6.40" rx="1.2" fill="#000"/>
<rect x="265.00" y="775.05" width="18.00" height="6.40" rx="1.2" fill="#000"/>
<rect x="251.00" y="718.92" width="32.00" height="6.40" rx="1.2" fill="#000"/>
<rect x="265.00" y="662.78" width="18.00" height="6.40" rx="1.2" fill="#000"/>
<rect x="251.00" y="606.65" width="32.00" height="6.40" rx="1.2" fill="#000"/>
<rect x="265.00" y="550.51" width="18.00" height="6.40" rx="1.2" fill="#000"/>
<rect x="251.00" y="494.38" width="32.00" height="6.40" rx="1.2" fill="#000"/>
<rect x="265.00" y="438.24" width="18.00" height="6.40" rx="1.2" fill="#000"/>
<rect x="251.00" y="382.11" width="32.00" height="6.40" rx="1.2" fill="#000"/>
<rect x="265.00" y="325.97" width="18.00" height="6.40" rx="1.2" fill="#000"/>
<rect x="251.00" y="269.84" width="32.00" height="6.40" rx="1.2" fill="#000"/>
<rect x="265.00" y="213.70" width="18.00" height="6.40" rx="1.2" fill="#000"/>
<rect x="251.00" y="157.57" width="32.00" height="6.40" rx="1.2" fill="#000"/>
<rect x="265.00" y="101.43" width="18.00" height="6.40" rx="1.2" fill="#000"/>
<rect x="251.00" y="45.30" width="32.00" height="6.40" rx="1.2" fill="#000"/>
<rect x="304.30" y="1508.00" width="6.40" height="31.00" rx="1.2" fill="#000"/>
<rect x="426.26" y="1508.00" width="6.40" height="17.00" rx="1.2" fill="#000"/>
<rect x="548.23" y="1508.00" width="6.40" height="31.00" rx="1.2" fill="#000"/>
<rect x="670.19" y="1508.00" width="6.40" height="17.00" rx="1.2" fill="#000"/>
<rect x="792.16" y="1508.00" width="6.40" height="31.00" rx="1.2" fill="#000"/>
<rect x="914.12" y="1508.00" width="6.40" height="17.00" rx="1.2" fill="#000"/>
<rect x="1036.09" y="1508.00" width="6.40" height="31.00" rx="1.2" fill="#000"/>
<rect x="1158.05" y="1508.00" width="6.40" height="17.00" rx="1.2" fill="#000"/>
<rect x="1280.01" y="1508.00" width="6.40" height="31.00" rx="1.2" fill="#000"/>
<rect x="1401.98" y="1508.00" width="6.40" height="17.00" rx="1.2" fill="#000"/>
<rect x="1523.94" y="1508.00" width="6.40" height="31.00" rx="1.2" fill="#000"/>
<rect x="1645.91" y="1508.00" width="6.40" height="17.00" rx="1.2" fill="#000"/>
<rect x="1767.87" y="1508.00" width="6.40" height="31.00" rx="1.2" fill="#000"/>
<rect x="1889.84" y="1508.00" width="6.40" height="17.00" rx="1.2" fill="#000"/>
<rect x="2011.80" y="1508.00" width="6.40" height="31.00" rx="1.2" fill="#000"/>
</g>
<defs><filter id="crisp" x="0" y="0" width="2145" height="1765" filterUnits="userSpaceOnUse" color-interpolation-filters="sRGB"><feComponentTransfer><feFuncA type="discrete" tableValues="0 1"/></feComponentTransfer></filter></defs>
<g id="labels" filter="url(#crisp)">
<g id="ticklabels">
<text transform="translate(163.81,1525.20) scale(1,1.0058)" font-size="63.44" stroke-width="0.80" text-anchor="start">70</text>
<text transform="translate(164.52,1412.93) scale(1,1.0058)" font-size="63.44" stroke-width="0.80" text-anchor="start">72</text>
<text transform="translate(163.19,1300.66) scale(1,1.0058)" font-size="63.44" stroke-width="0.80" text-anchor="start">74</text>
<text transform="translate(164.12,1188.39) scale(1,1.0058)" font-size="63.44" stroke-width="0.80" text-anchor="start">76</text>
<text transform="translate(164.09,1076.12) scale(1,1.0058)" font-size="63.44" stroke-width="0.80" text-anchor="start">78</text>
<text transform="translate(163.81,963.85) scale(1,1.0058)" font-size="63.44" stroke-width="0.80" text-anchor="start">80</text>
<text transform="translate(164.52,851.58) scale(1,1.0058)" font-size="63.44" stroke-width="0.80" text-anchor="start">82</text>
<text transform="translate(163.19,739.32) scale(1,1.0058)" font-size="63.44" stroke-width="0.80" text-anchor="start">84</text>
<text transform="translate(164.12,627.05) scale(1,1.0058)" font-size="63.44" stroke-width="0.80" text-anchor="start">86</text>
<text transform="translate(164.09,514.78) scale(1,1.0058)" font-size="63.44" stroke-width="0.80" text-anchor="start">88</text>
<text transform="translate(163.81,402.51) scale(1,1.0058)" font-size="63.44" stroke-width="0.80" text-anchor="start">90</text>
<text transform="translate(164.52,290.24) scale(1,1.0058)" font-size="63.44" stroke-width="0.80" text-anchor="start">92</text>
<text transform="translate(163.19,177.97) scale(1,1.0058)" font-size="63.44" stroke-width="0.80" text-anchor="start">94</text>
<text transform="translate(164.12,65.70) scale(1,1.0058)" font-size="63.44" stroke-width="0.80" text-anchor="start">96</text>
<text transform="translate(236.63,1606.00) scale(1,1.0058)" font-size="63.44" stroke-width="0.80" text-anchor="start">4000</text>
<text transform="translate(480.56,1606.00) scale(1,1.0058)" font-size="63.44" stroke-width="0.80" text-anchor="start">3500</text>
<text transform="translate(724.49,1606.00) scale(1,1.0058)" font-size="63.44" stroke-width="0.80" text-anchor="start">3000</text>
<text transform="translate(968.42,1606.00) scale(1,1.0058)" font-size="63.44" stroke-width="0.80" text-anchor="start">2500</text>
<text transform="translate(1212.35,1606.00) scale(1,1.0058)" font-size="63.44" stroke-width="0.80" text-anchor="start">2000</text>
<clipPath id="c1"><rect x="-63.44" y="-76.13" width="85.70" height="70.69"/><rect x="15.70" y="-6.44" width="6.11" height="7.14"/></clipPath>
<text transform="translate(1458.56,1606.00) scale(1,1.0058)" font-size="63.44" stroke-width="0.80" clip-path="url(#c1)">1</text>
<text transform="translate(1491.56,1606.00) scale(1,1.0058)" font-size="63.44" stroke-width="0.80" text-anchor="start">500</text>
<clipPath id="c2"><rect x="-63.44" y="-76.13" width="85.70" height="70.69"/><rect x="15.70" y="-6.44" width="6.11" height="7.14"/></clipPath>
<text transform="translate(1702.49,1606.00) scale(1,1.0058)" font-size="63.44" stroke-width="0.80" clip-path="url(#c2)">1</text>
<text transform="translate(1735.49,1606.00) scale(1,1.0058)" font-size="63.44" stroke-width="0.80" text-anchor="start">000</text>
<text transform="translate(1961.77,1606.00) scale(1,1.0058)" font-size="63.44" stroke-width="0.80" text-anchor="start">500</text>
</g>
<g id="xtitle">
<text class="b" transform="translate(821.17,1723.55) scale(1,1.0154)" font-size="83.24" stroke-width="0.70" text-anchor="start">W</text>
<text class="b" transform="translate(897.87,1723.55) scale(1,1.0079)" font-size="81.12" stroke-width="0.70" text-anchor="start">aven</text>
<text class="b" transform="translate(1082.45,1723.55) scale(1,0.9942)" font-size="82.24" stroke-width="0.70" text-anchor="start">umber</text>
<text class="b" transform="translate(1354.81,1723.04) scale(1,0.9838)" font-size="80.86" stroke-width="0.70" text-anchor="start">[</text>
<text class="b" transform="translate(1380.15,1723.55) scale(1,0.9983)" font-size="81.91" stroke-width="0.70" text-anchor="start">cm</text>
<text transform="translate(1496.70,1682.93) scale(1,1.3628)" font-size="46.07" stroke-width="0.00" text-anchor="start">–</text>
<clipPath id="c3"><rect x="-51.94" y="-62.33" width="71.75" height="56.48"/><rect x="12.02" y="-6.85" width="7.33" height="7.40"/></clipPath>
<text class="b" transform="translate(1522.70,1678.75) scale(1,0.9654)" font-size="51.94" stroke-width="0.50" clip-path="url(#c3)">1</text>
<text class="b" transform="translate(1548.79,1723.04) scale(1,1.0073)" font-size="78.97" stroke-width="0.70" text-anchor="start">]</text>
</g>
<g id="ytitle" transform="translate(0,0) rotate(-90)">
<text class="b" transform="translate(-1109.36,83.65) scale(1,1.0501)" font-size="80.83" stroke-width="0.70" text-anchor="start">T</text>
<text class="b" transform="translate(-1060.55,83.65) scale(1,1.0153)" font-size="80.35" stroke-width="0.70" text-anchor="start">ransmittance</text>
<text class="b" transform="translate(-538.03,83.16) scale(1,1.0025)" font-size="79.73" stroke-width="0.70" text-anchor="start">[</text>
<text class="b" transform="translate(-511.48,85.16) scale(1,1.1305)" font-size="77.70" stroke-width="0.70" text-anchor="start">%</text>
<text class="b" transform="translate(-445.43,83.16) scale(1,0.9977)" font-size="80.11" stroke-width="0.70" text-anchor="start">]</text>
</g>
<g id="legend">
<text class="b" transform="translate(548.79,164.65) scale(1,1.0454)" font-size="61.60" stroke-width="0.70" text-anchor="start">non-anodized</text>
<text class="b" transform="translate(966.55,164.65) scale(1,1.0388)" font-size="61.98" stroke-width="0.70" text-anchor="start">T</text>
<text class="b" transform="translate(1003.92,164.65) scale(1,0.9869)" font-size="61.95" stroke-width="0.70" text-anchor="start">i</text>
<text transform="translate(1019.10,168.03) scale(1,1.2334)" font-size="59.39" stroke-width="0.00" text-anchor="start">–</text>
<clipPath id="c4"><rect x="-62.12" y="-74.54" width="85.79" height="67.55"/><rect x="14.30" y="-7.99" width="8.92" height="8.64"/></clipPath>
<text class="b" transform="translate(1053.38,164.65) scale(1,1.0366)" font-size="62.12" stroke-width="0.70" clip-path="url(#c4)">1</text>
<text class="b" transform="translate(1087.92,164.65) scale(1,1.0366)" font-size="62.12" stroke-width="0.70" text-anchor="start">3Zr</text>
<text transform="translate(1181.60,168.03) scale(1,1.2524)" font-size="58.49" stroke-width="0.00" text-anchor="start">–</text>
<clipPath id="c5"><rect x="-61.69" y="-74.03" width="85.21" height="67.08"/><rect x="14.20" y="-7.95" width="8.86" height="8.60"/></clipPath>
<text class="b" transform="translate(1216.62,164.65) scale(1,1.0437)" font-size="61.69" stroke-width="0.70" clip-path="url(#c5)">1</text>
<text class="b" transform="translate(1250.93,164.65) scale(1,1.0437)" font-size="61.69" stroke-width="0.70" text-anchor="start">3Nb</text>
<clipPath id="c6"><rect x="-64.46" y="-77.36" width="89.00" height="70.13"/><rect x="14.85" y="-8.23" width="9.24" height="8.88"/></clipPath>
<text class="b" transform="translate(547.85,241.55) scale(1,0.9966)" font-size="64.46" stroke-width="0.70" clip-path="url(#c6)">1</text>
<text class="b" transform="translate(583.71,241.55) scale(1,0.9966)" font-size="64.46" stroke-width="0.70" text-anchor="start">G</text>
<text class="b" transform="translate(648.62,241.55) scale(1,1.0417)" font-size="61.67" stroke-width="0.70" text-anchor="start">ONTs/T</text>
<text class="b" transform="translate(867.07,241.55) scale(1,0.9511)" font-size="64.14" stroke-width="0.70" text-anchor="start">i</text>
<text transform="translate(883.00,245.08) scale(1,1.2260)" font-size="59.75" stroke-width="0.00" text-anchor="start">–</text>
<clipPath id="c7"><rect x="-62.25" y="-74.70" width="85.97" height="67.70"/><rect x="14.33" y="-8.00" width="8.94" height="8.65"/></clipPath>
<text class="b" transform="translate(917.30,241.55) scale(1,1.0320)" font-size="62.25" stroke-width="0.70" clip-path="url(#c7)">1</text>
<text class="b" transform="translate(951.92,241.55) scale(1,1.0320)" font-size="62.25" stroke-width="0.70" text-anchor="start">3Zr</text>
<text transform="translate(1044.90,245.08) scale(1,1.2260)" font-size="59.75" stroke-width="0.00" text-anchor="start">–</text>
<clipPath id="c8"><rect x="-61.31" y="-73.57" width="84.68" height="66.66"/><rect x="14.11" y="-7.91" width="8.81" height="8.56"/></clipPath>
<text class="b" transform="translate(1081.25,241.55) scale(1,1.0479)" font-size="61.31" stroke-width="0.70" clip-path="url(#c8)">1</text>
<text class="b" transform="translate(1115.34,241.55) scale(1,1.0479)" font-size="61.31" stroke-width="0.70" text-anchor="start">3Nb</text>
</g>
<g id="annotations">
<text transform="translate(386.90,648.17) scale(1,0.8307)" font-size="71.99" stroke-width="0.00" text-anchor="start">–</text>
<text transform="translate(428.03,652.80) scale(1,1.0147)" font-size="83.80" stroke-width="0.20" text-anchor="start">OH</text>
<text transform="translate(382.90,1189.17) scale(1,0.8265)" font-size="72.35" stroke-width="0.00" text-anchor="start">–</text>
<text transform="translate(424.13,1193.80) scale(1,1.0190)" font-size="83.73" stroke-width="0.20" text-anchor="start">OH</text>
<text transform="translate(1289.20,660.80) scale(1,1.0127)" font-size="84.54" stroke-width="0.20" text-anchor="start">T</text>
<text transform="translate(1340.67,660.80) scale(1,1.0206)" font-size="79.64" stroke-width="0.20" text-anchor="start">i</text>
<text transform="translate(1358.90,656.17) scale(1,0.8286)" font-size="72.17" stroke-width="0.00" text-anchor="start">–</text>
<text transform="translate(1400.13,660.80) scale(1,1.0216)" font-size="83.80" stroke-width="0.20" text-anchor="start">OH</text>
<text transform="translate(1297.10,1192.80) scale(1,1.0076)" font-size="84.54" stroke-width="0.20" text-anchor="start">T</text>
<text transform="translate(1348.57,1192.80) scale(1,1.0154)" font-size="79.64" stroke-width="0.20" text-anchor="start">i</text>
<text transform="translate(1367.90,1188.17) scale(1,0.8286)" font-size="72.17" stroke-width="0.00" text-anchor="start">–</text>
<text transform="translate(1408.13,1192.80) scale(1,1.0173)" font-size="83.73" stroke-width="0.20" text-anchor="start">OH</text>
<text transform="translate(1817.10,823.80) scale(1,1.0093)" font-size="84.54" stroke-width="0.20" text-anchor="start">T</text>
<text transform="translate(1868.57,823.80) scale(1,1.0171)" font-size="79.64" stroke-width="0.20" text-anchor="start">i</text>
<text transform="translate(1888.10,819.17) scale(1,0.8369)" font-size="71.45" stroke-width="0.00" text-anchor="start">–</text>
<text transform="translate(1928.49,823.80) scale(1,1.0327)" font-size="82.62" stroke-width="0.20" text-anchor="start">O</text>
<text transform="translate(1820.10,982.50) scale(1,1.0058)" font-size="84.54" stroke-width="0.20" text-anchor="start">T</text>
<text transform="translate(1871.57,982.50) scale(1,1.0137)" font-size="79.64" stroke-width="0.20" text-anchor="start">i</text>
<text transform="translate(1891.10,977.87) scale(1,0.8369)" font-size="71.45" stroke-width="0.00" text-anchor="start">–</text>
<text transform="translate(1931.49,982.50) scale(1,1.0291)" font-size="82.62" stroke-width="0.20" text-anchor="start">O</text>
<text transform="translate(1949.00,1129.60) scale(1,1.0007)" font-size="84.54" stroke-width="0.20" text-anchor="start">T</text>
<text transform="translate(2000.47,1129.60) scale(1,1.0085)" font-size="79.64" stroke-width="0.20" text-anchor="start">i</text>
<text transform="translate(2018.69,1129.58) scale(1,1.0223)" font-size="82.62" stroke-width="0.20" text-anchor="start">O</text>
<text transform="translate(2082.67,1162.70) scale(1,0.9293)" font-size="52.24" stroke-width="0.60" text-anchor="start">2</text>
<text transform="translate(1885.00,1339.50) scale(1,0.9904)" font-size="84.54" stroke-width="0.20" text-anchor="start">T</text>
<text transform="translate(1936.47,1339.50) scale(1,0.9981)" font-size="79.64" stroke-width="0.20" text-anchor="start">i</text>
<text transform="translate(1954.60,1339.48) scale(1,0.9892)" font-size="84.53" stroke-width="0.20" text-anchor="start">O</text>
<text transform="translate(2019.01,1371.60) scale(1,0.9467)" font-size="51.58" stroke-width="0.60" text-anchor="start">2</text>
</g>
</g>
</svg>
</body></html>
